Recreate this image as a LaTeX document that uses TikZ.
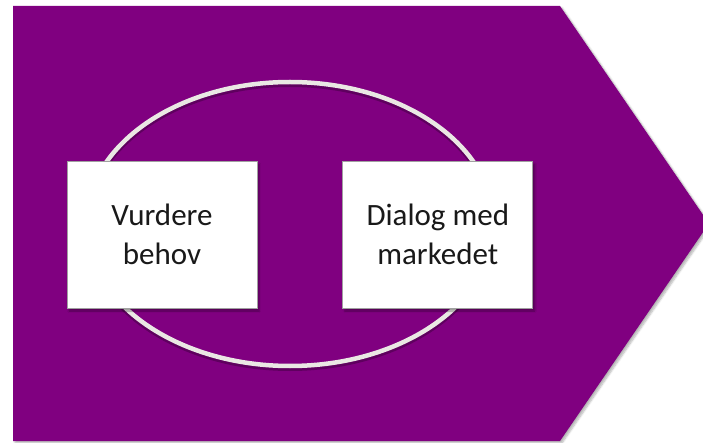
\documentclass[tikz,border=0pt]{standalone}
\usepackage{fontspec}
\setmainfont{Carlito}
\usepackage{tikz}
\usetikzlibrary{positioning, shapes, shadows.blur}
\definecolor{lilla}{RGB}{128, 0, 128}
\definecolor{ringgraa}{RGB}{234, 232, 228}
\definecolor{kant}{RGB}{160, 160, 160}
\tikzset{
    pil/.style={fill=lilla, draw=none, blur shadow={shadow xshift=2pt, shadow yshift=-2pt, shadow blur steps=6, shadow opacity=30}},
    ring/.style={draw=ringgraa, line width=4.5pt, ellipse, minimum width=408pt, minimum height=284pt, inner sep=0pt,
        preaction={draw=black, draw opacity=0.25, line width=5pt, transform canvas={yshift=-2.5pt}}},
    boks/.style={draw=kant, line width=0.8pt, fill=white, rectangle, minimum width=190pt, minimum height=147pt,
        align=center, font=\fontsize{31}{39}\selectfont, text=black!90,
        blur shadow={shadow xshift=2pt, shadow yshift=-3pt, shadow blur steps=5, shadow opacity=35}},
}

\begin{document}
\begin{tikzpicture}[x=1pt, y=-1pt]
        \useasboundingbox (0,0) rectangle (703,443);
        \clip (0,0) rectangle (703,443);

        % pilen
        \path[pil] (13,6) -- (560,6) -- (709,223.5) -- (560,441) -- (13,441) -- cycle;

        % ringen bak boksene
        \node[ring] (ring) at (290,224) {};

        \node[boks] (vb) at (162,234.5) {Vurdere\\behov};
        \node[boks, right=85pt of vb] (dm) {Dialog med\\markedet};
\end{tikzpicture}
\end{document}
